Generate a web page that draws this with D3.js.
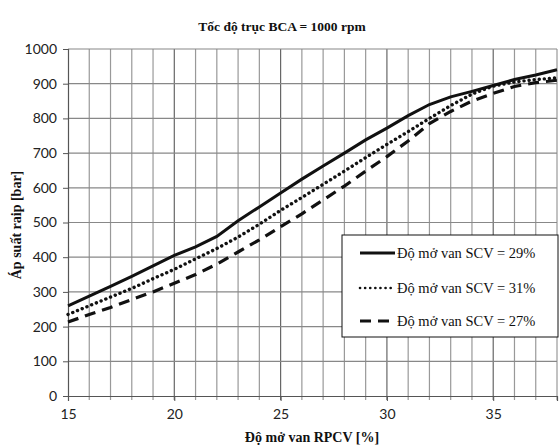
<!DOCTYPE html>
<html><head><meta charset="utf-8">
<script src="https://cdn.jsdelivr.net/npm/d3@7"></script>
<style>body{margin:0;background:#fff}</style>
</head><body>
<svg id="c" width="560" height="447"></svg>
<script>
const xValues = [15,16,17,18,19,20,21,22,23,24,25,26,27,28,29,30,31,32,33,34,35,36,37,38];
const scv29 = [260,288,316,345,375,405,430,460,505,545,585,625,663,700,738,772,808,840,862,878,895,912,925,940];
const scv31 = [235,260,285,310,338,365,395,425,458,495,535,572,610,648,687,725,762,800,837,870,893,905,912,917];
const scv27 = [213,235,255,278,300,325,350,380,415,450,488,525,565,605,648,690,735,785,820,850,872,892,903,910];
const seriesNames = ["Độ mở van SCV = 29%","Độ mở van SCV = 31%","Độ mở van SCV = 27%"];
const xTicks = [15,20,25,30,35];
const yTicks = [0,100,200,300,400,500,600,700,800,900,1000];
const title = "Tốc độ trục BCA = 1000 rpm";
const xLabel = "Độ mở van RPCV [%]";
const yLabel = "Áp suất raip [bar]";

const svg = d3.select("#c");
const L=68, R=557, T=49, B=396;
const x = d3.scaleLinear().domain([15,38]).range([L,R]);
const y = d3.scaleLinear().domain([0,1000]).range([B,T]);

// grid
const g = svg.append("g");
g.selectAll("line.v").data(d3.range(16,39)).join("line")
  .attr("x1",d=>x(d)).attr("x2",d=>x(d)).attr("y1",T).attr("y2",B+4)
  .attr("stroke",d=>d%5===0?"#666":"#999").attr("stroke-width",1.2);
g.selectAll("line.h").data(yTicks.slice(1)).join("line")
  .attr("x1",L).attr("x2",R).attr("y1",d=>y(d)).attr("y2",d=>y(d))
  .attr("stroke","#888").attr("stroke-width",1.2);

// axes
const xAxis = d3.axisBottom(x).tickValues(xTicks).tickSize(5).tickFormat(d3.format("d"));
const yAxis = d3.axisLeft(y).tickValues(yTicks).tickSize(5).tickPadding(6).tickFormat(d3.format("d"));
const gx = svg.append("g").attr("transform",`translate(0,${B})`).call(xAxis);
const gy = svg.append("g").attr("transform",`translate(${L},0)`).call(yAxis);
[gx,gy].forEach(a=>{
  a.select(".domain").attr("stroke","#555").attr("stroke-width",1.2);
  a.selectAll(".tick line").attr("stroke","#555");
  a.selectAll("text").attr("font-family","Lato, 'Open Sans', sans-serif").attr("font-size",14).attr("fill","#222");
});
gx.selectAll("text").attr("dy","1.05em");

// lines
const DOT = "0.1,5";
const series = [
  {v:scv29, dash:null, w:3, cap:"butt"},
  {v:scv31, dash:DOT, w:3.4, cap:"round"},
  {v:scv27, dash:"11,7", w:3.2, cap:"butt"}
];
const line = d3.line().x((d,i)=>x(xValues[i])).y(d=>y(d));
series.forEach(s=>{
  svg.append("path").datum(s.v).attr("d",line).attr("fill","none")
    .attr("stroke","#111").attr("stroke-width",s.w)
    .attr("stroke-dasharray",s.dash).attr("stroke-linecap",s.cap);
});

// legend
const lg = svg.append("g");
lg.append("rect").attr("x",342).attr("y",235).attr("width",216).attr("height",102)
  .attr("fill","#fff").attr("stroke","#111").attr("stroke-width",1);
const ly = [253,288,321];
series.forEach((s,i)=>{
  lg.append("line").attr("x1",360).attr("x2",395).attr("y1",ly[i]).attr("y2",ly[i])
    .attr("stroke","#111").attr("stroke-width",i===1?2.6:s.w)
    .attr("stroke-dasharray",s.dash)
    .attr("stroke-linecap",s.cap);
  lg.append("text").attr("x",397).attr("y",ly[i]+5).text(seriesNames[i])
    .attr("font-family","'Liberation Serif', serif").attr("font-size",14.5).attr("fill","#111");
});

// titles
svg.append("text").attr("x",282).attr("y",31).attr("text-anchor","middle").text(title)
  .attr("font-family","'Liberation Serif', serif").attr("font-weight","bold").attr("font-size",13.5).attr("fill","#111");
svg.append("text").attr("x",312).attr("y",442).attr("text-anchor","middle").text(xLabel)
  .attr("font-family","'Liberation Serif', serif").attr("font-weight","bold").attr("font-size",14).attr("fill","#111");
svg.append("text").attr("transform","translate(21,225) rotate(-90)").attr("text-anchor","middle").text(yLabel)
  .attr("font-family","'Liberation Serif', serif").attr("font-weight","bold").attr("font-size",14).attr("fill","#111");
</script>
</body></html>
